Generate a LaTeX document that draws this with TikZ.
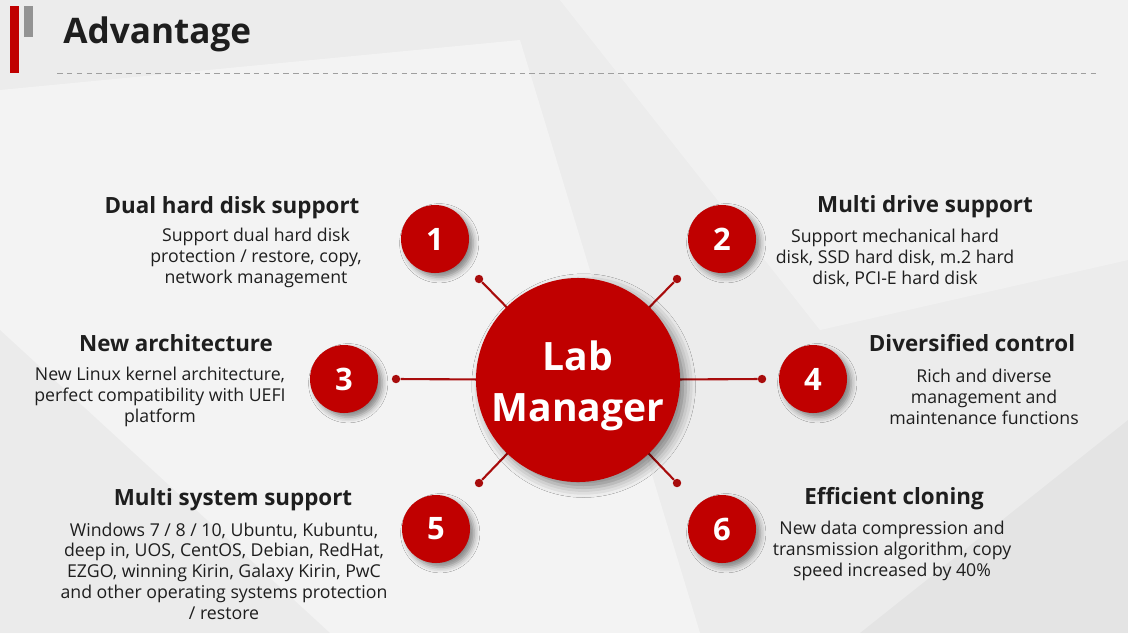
\documentclass[tikz,border=0pt]{standalone}
\usepackage{fontspec}
\setmainfont{Open Sans}
\usepackage{tikz}
\usetikzlibrary{calc}
\usetikzlibrary{shadows.blur}
\definecolor{labred}{RGB}{192,0,0}
\definecolor{linkred}{RGB}{168,12,12}
\definecolor{inkgray}{RGB}{30,30,30}
\definecolor{bggray}{RGB}{236,236,236}
\tikzset{
  hub/.style={circle,fill=labred,minimum size=5.1cm,inner sep=0pt,
    blur shadow={shadow xshift=4pt,shadow yshift=-4pt,shadow blur radius=7pt,shadow opacity=45}},
  hubtxt/.style={inner sep=0pt,text=white,align=center,font=\bfseries\fontsize{27.8}{36}\selectfont},
  numcirc/.style={circle,fill=labred,minimum size=1.7cm,inner sep=0pt,text=white,
    font=\bfseries\fontsize{22}{26}\selectfont,
    blur shadow={shadow xshift=3pt,shadow yshift=-3pt,shadow blur radius=4pt,shadow opacity=45}},
  dot/.style={circle,fill=linkred,minimum size=6pt,inner sep=0pt},
  link/.style={linkred,line width=1.5pt},
  headtxt/.style={anchor=base,inner sep=0pt,text=inkgray,font=\bfseries\fontsize{15.9}{19}\selectfont},
  bodytxt/.style={inner sep=0pt,text=inkgray,align=center,font=\fontsize{12.6}{14.7}\selectfont}
}
\begin{document}
\begin{tikzpicture}[x=0.025cm,y=-0.025cm]
        \useasboundingbox (0,0) rectangle (1128,633);
        % background
        \fill[bggray] (0,0) rectangle (1128,633);
        \fill[white,opacity=0.4] (0,90) -- (520,40) -- (700,633) -- (0,633) -- cycle;
        \fill[white,opacity=0.3] (560,0) -- (1128,0) -- (1128,260) -- (820,330) -- cycle;
        \fill[black,opacity=0.03] (0,330) -- (330,633) -- (0,633) -- cycle;
        \fill[black,opacity=0.03] (860,633) -- (1128,420) -- (1128,633) -- cycle;
        % title
        \fill[labred] (10,6) rectangle (19,73);
        \fill[gray!85] (24,6) rectangle (33,37);
        \node[anchor=base west,inner sep=0pt,text=inkgray,font=\bfseries\fontsize{25}{30}\selectfont] (title) at (63,43) {Advantage};
        \draw[gray!75,line width=0.7pt,dash pattern=on 4pt off 3pt] (57,73) -- (1100,73);
        % connectors
        \node[dot] (d1) at (479,279) {};
        \node[dot] (d2) at (677,279) {};
        \node[dot] (d3) at (396,379) {};
        \node[dot] (d4) at (762,379) {};
        \node[dot] (d5) at (479,483) {};
        \node[dot] (d6) at (677,483) {};
        \coordinate (hc) at (578,380);
        \foreach \d in {d1,d2,d3,d4,d5,d6}
          \draw[link] (hc) -- (\d);
        \node[hub] (hub) at (hc) {};
        \node[hubtxt] (hublabel) at (578,386) {Lab\\Manager};
        % numbered circles
        \node[numcirc] (c1) at (435,239) {1};
        \node[numcirc] (c2) at (722,239) {2};
        \node[numcirc] (c3) at (344,379) {3};
        \node[numcirc] (c4) at (813,379) {4};
        \node[numcirc] (c5) at (436,529) {5};
        \node[numcirc] (c6) at (722,529) {6};
        % texts
        \node[headtxt] (h1) at (232,213) {Dual hard disk support};
        \node[bodytxt] (b1) at (256,258) {Support dual hard disk\\protection / restore, copy,\\network management};
        \node[headtxt] (h2) at (925,212) {Multi drive support};
        \node[bodytxt] (b2) at (895,258) {Support mechanical hard\\disk, SSD hard disk, m.2 hard\\disk, PCI-E hard disk};
        \node[headtxt] (h3) at (176,351) {New architecture};
        \node[bodytxt] (b3) at (160,397) {New Linux kernel architecture,\\perfect compatibility with UEFI\\platform};
        \node[headtxt] (h4) at (972,351) {Diversified control};
        \node[bodytxt] (b4) at (984,397) {Rich and diverse\\management and\\maintenance functions};
        \node[headtxt] (h5) at (233,505) {Multi system support};
        \node[bodytxt] (b5) at (224,571) {Windows 7 / 8 / 10, Ubuntu, Kubuntu,\\deep in, UOS, CentOS, Debian, RedHat,\\EZGO, winning Kirin, Galaxy Kirin, PwC\\and other operating systems protection\\/ restore};
        \node[headtxt] (h6) at (894,504) {Efficient cloning};
        \node[bodytxt] (b6) at (892,551) {New data compression and\\transmission algorithm, copy\\speed increased by 40\%};
\end{tikzpicture}
\end{document}
